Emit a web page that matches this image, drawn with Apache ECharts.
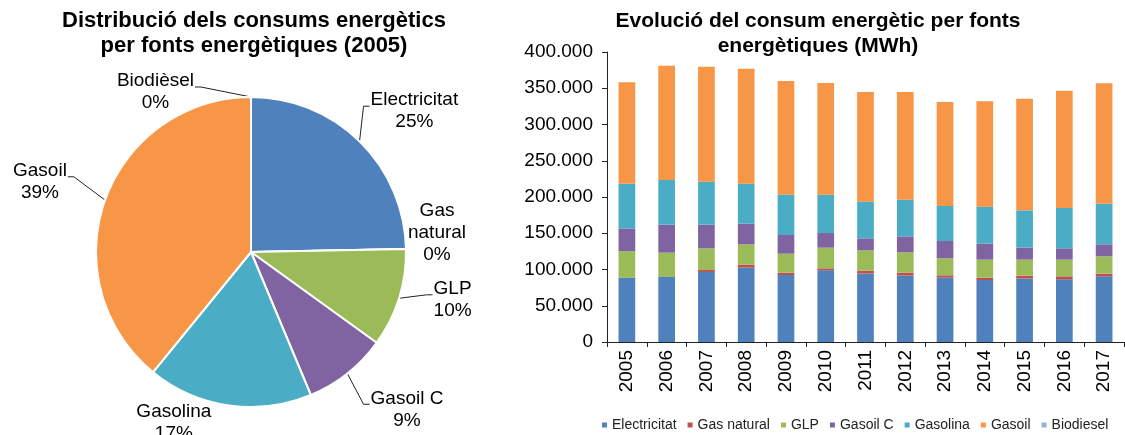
<!DOCTYPE html>
<html>
<head>
<meta charset="utf-8">
<script src="https://cdn.jsdelivr.net/npm/echarts@6/dist/echarts.min.js"></script>
<style>
  html, body { margin: 0; padding: 0; background: #fff; }
  #main { width: 1125px; height: 435px; }
</style>
</head>
<body>
<div id="main"></div>
<script>
// dades (MWh)
var years = ['2005', '2006', '2007', '2008', '2009', '2010', '2011', '2012', '2013', '2014', '2015', '2016', '2017']
var electricitat = [88500, 89700, 96600, 102500, 92400, 98900, 94300, 91500, 88700, 85500, 87400, 86400, 90600]
var gasNatural = [0, 0, 2700, 4200, 3200, 2700, 4100, 4100, 3300, 3200, 4100, 4200, 3700]
var glp = [36800, 33500, 29900, 28000, 26200, 28500, 28000, 28100, 23400, 24900, 22100, 23000, 23900]
var gasoilC = [31300, 38600, 32600, 28500, 25800, 20200, 16600, 22000, 23900, 22000, 16500, 15600, 16500]
var gasolina = [61600, 61600, 59300, 55200, 55600, 52900, 50600, 50600, 48300, 51100, 51500, 55600, 56100]
var gasoil = [140200, 157700, 158700, 158600, 156800, 154000, 151200, 148500, 143400, 145300, 154000, 161900, 166000]
var biodiesel = [0, 0, 0, 0, 0, 0, 0, 0, 0, 0, 0, 0, 0]

// pastís 2005
var pieNames = ['Electricitat', 'Gas natural', 'GLP', 'Gasoil C', 'Gasolina', 'Gasoil', 'Biodièsel']
var pieValues = [88500, 0, 36800, 31300, 61600, 140200, 0]

var colors = ['#4F81BD', '#C0504D', '#9BBB59', '#8064A2', '#4BACC6', '#F79646', '#95B3D7']
var font = 'Liberation Sans, Arial, sans-serif'

// petits desplaçaments de les etiquetes del pastís [dx, dy]
var labelShift = {
  'Electricitat': [-11, -23],
  'Gas natural': [-18, -16],
  'GLP': [16, -6],
  'Gasoil C': [2, 28],
  'Gasolina': [-1, 11],
  'Gasoil': [-19, -14],
  'Biodièsel': [-42, 5]
}
var noLine = { 'Gas natural': true, 'Gasolina': true }

var myChart = echarts.init(document.getElementById('main'))

function fmtThousands(v) {
  return String(v).replace(/\B(?=(\d{3})+(?!\d))/g, '.')
}

var barSeries = [
  ['Electricitat', electricitat],
  ['Gas natural', gasNatural],
  ['GLP', glp],
  ['Gasoil C', gasoilC],
  ['Gasolina', gasolina],
  ['Gasoil', gasoil],
  ['Biodiesel', biodiesel]
].map(function (s, i) {
  return {
    name: s[0],
    type: 'bar',
    stack: 'total',
    barWidth: '42%',
    data: s[1],
    itemStyle: { color: colors[i] }
  }
})

var option = {
  animation: false,
  textStyle: { fontFamily: font },
  title: [
    {
      text: 'Distribució dels consums energètics\nper fonts energètiques (2005)',
      left: 249, top: 3, textAlign: 'center',
      textStyle: { fontFamily: font, fontSize: 22, fontWeight: 'bold', color: '#000', lineHeight: 25 }
    },
    {
      text: 'Evolució del consum energètic per fonts\nenergètiques (MWh)',
      left: 813, top: 4, textAlign: 'center',
      textStyle: { fontFamily: font, fontSize: 21, fontWeight: 'bold', color: '#000', lineHeight: 25 }
    }
  ],
  legend: {
    data: ['Electricitat', 'Gas natural', 'GLP', 'Gasoil C', 'Gasolina', 'Gasoil', 'Biodiesel'],
    left: 597, top: 413,
    itemWidth: 5, itemHeight: 5, itemGap: 11,
    icon: 'rect',
    textStyle: { fontFamily: font, fontSize: 14, color: '#222' }
  },
  grid: { left: 607, right: 1, top: 52, bottom: 93, containLabel: false },
  xAxis: {
    type: 'category',
    data: years,
    axisLine: { lineStyle: { color: '#222' } },
    axisTick: { show: true, alignWithLabel: false, length: 5, lineStyle: { color: '#222' } },
    axisLabel: { rotate: 90, fontSize: 19, color: '#000', margin: 8, fontFamily: font }
  },
  yAxis: {
    type: 'value',
    min: 0, max: 400000, interval: 50000,
    axisLine: { show: true, lineStyle: { color: '#222' } },
    axisTick: { show: true, length: 5, lineStyle: { color: '#222' } },
    splitLine: { show: false },
    axisLabel: { fontSize: 19, color: '#000', margin: 14, fontFamily: font, formatter: fmtThousands }
  },
  series: barSeries.concat([{
    name: 'pie2005',
    type: 'pie',
    center: [251, 252],
    radius: 155,
    startAngle: 90,
    clockwise: true,
    legendHoverLink: false,
    stillShowZeroSum: true,
    itemStyle: { borderColor: '#fff', borderWidth: 2 },
    label: {
      show: true,
      position: 'outside',
      color: '#000',
      fontFamily: font,
      fontSize: 19,
      lineHeight: 22,
      formatter: function (p) {
        var name = p.name === 'Gas natural' ? 'Gas\nnatural' : p.name
        var lines = (name + '\n' + Math.round(p.percent) + '%').split('\n')
        return lines.map(function (l) { return '{c|' + l + '}' }).join('\n')
      },
      rich: {
        c: { align: 'center', fontSize: 19, lineHeight: 22, color: '#000', fontFamily: font }
      }
    },
    labelLine: { show: true, length: 10, length2: 10, lineStyle: { color: '#222', width: 1 } },
    labelLayout: function (p) {
      var s = labelShift[pieNames[p.dataIndex]] || [0, 0]
      var r = p.labelRect
      var res = { dx: s[0], dy: s[1] }
      var pts = p.labelLinePoints
      if (pts && pts.length) {
        var start = pts[0]
        var rightSide = r.x + r.width / 2 > 251
        var endX = rightSide ? r.x + s[0] - 1 : r.x + r.width + s[0] + 1
        var endY = r.y + s[1] + 17
        var midX = rightSide ? endX - 6 : endX + 6
        res.labelLinePoints = [[start[0], start[1]], [midX, endY], [endX, endY]]
      }
      return res
    },
    data: pieNames.map(function (n, i) {
      return {
        name: n,
        value: pieValues[i],
        itemStyle: { color: colors[i] },
        labelLine: { show: !noLine[n] }
      }
    })
  }])
}

myChart.setOption(option)
</script>
</body>
</html>
